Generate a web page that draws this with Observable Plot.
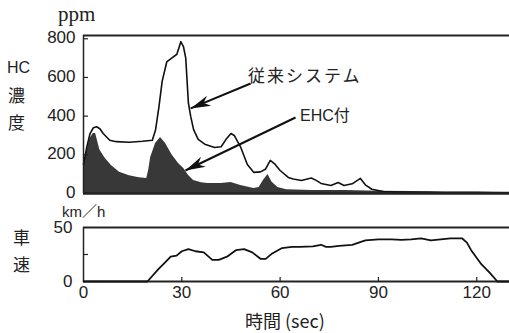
<!DOCTYPE html>
<html><head><meta charset="utf-8">
<script src="https://cdn.jsdelivr.net/npm/d3@7"></script>
<script src="https://cdn.jsdelivr.net/npm/@observablehq/plot@0.6"></script>
<style>
body{margin:0;background:#fff;}
#wrap{position:relative;width:509px;height:333px;overflow:hidden;font-family:"Liberation Sans",Arial,sans-serif;color:#222;background:#fff;}
.lbl{position:absolute;white-space:nowrap;line-height:1;}
.jp{font-family:"Noto Sans CJK JP","Liberation Sans",sans-serif;}
#hcPanel,#spdPanel{position:absolute;left:0;}
</style></head>
<body><div id="wrap">
<div id="spdPanel" style="top:200px"></div>
<div id="hcPanel" style="top:0"></div>
<div class="lbl" style="left:58px;top:4px;font-family:'Liberation Serif',serif;font-size:21px;">ppm</div>
<div class="lbl" style="left:7px;top:60px;font-size:16px;">HC</div>
<div class="lbl jp" style="left:8px;top:86px;font-size:17px;">濃</div>
<div class="lbl jp" style="left:8px;top:113px;font-size:17px;">度</div>
<div class="lbl" style="left:62px;top:204px;font-size:15px;font-family:'Liberation Sans','Noto Sans CJK JP',sans-serif;">km／h</div>
<div class="lbl jp" style="left:13px;top:228px;font-size:17px;">車</div>
<div class="lbl jp" style="left:13px;top:255px;font-size:17px;">速</div>
<div class="lbl jp" style="left:245px;top:311px;font-size:18px;">時間 (sec)</div>
<div class="lbl jp" style="left:248px;top:66px;font-size:17px;letter-spacing:2px;">従来システム</div>
<div class="lbl" style="left:300px;top:108px;font-size:16px;font-family:'Liberation Sans','Noto Sans CJK JP',sans-serif;">EHC付</div>
</div>
<script>
// ---- data ----
const convT = [0, 1, 2, 3, 4, 5, 6, 8, 10, 14, 18, 21, 22, 23, 24, 25.4, 26.5, 28.5, 29.7, 30.5, 31.2, 32, 32.7, 33.6, 35, 37, 40, 42, 43.5, 45, 46, 48, 50, 52, 54, 55.5, 57, 58.5, 60, 62.5, 64, 66.5, 69.5, 71, 72.5, 75.5, 77.7, 79.5, 82, 84.5, 86, 88, 91.5, 95, 100, 105, 110, 115, 120, 125, 130];
const convV = [150, 240, 310, 340, 345, 335, 310, 275, 268, 265, 270, 275, 330, 445, 580, 680, 695, 720, 785, 760, 700, 470, 400, 330, 280, 255, 238, 242, 280, 310, 300, 238, 150, 109, 112, 125, 171, 150, 119, 83, 75, 67, 80, 68, 52, 41, 57, 41, 50, 78, 45, 22, 10, 8, 6, 6, 5, 5, 5, 4, 4];
const ehcT = [0, 1, 2, 3, 3.7, 5, 6.5, 8.5, 11, 14, 17, 19.3, 19.9, 20.5, 22, 23.5, 25, 27, 29, 30.6, 32, 33.6, 36, 38, 42, 45, 48, 52, 53.6, 55, 56.3, 57.5, 59.3, 62, 70, 80, 90, 100, 110, 120, 130];
const ehcV = [140, 220, 285, 310, 310, 225, 185, 145, 110, 92, 82, 78, 120, 186, 258, 290, 260, 200, 155, 129, 95, 67, 55, 52, 52, 57, 41, 26, 31, 70, 98, 60, 31, 20, 15, 15, 12, 10, 8, 8, 6];
const spdT = [0, 19.5, 23, 25, 26.6, 28.4, 30, 32, 34.2, 36.7, 39.3, 41.3, 43.8, 46.5, 49, 51.5, 54, 55.6, 57.6, 60.6, 63.6, 66, 70, 72.5, 74, 75.5, 78, 82, 84, 86, 90, 94, 97, 100, 103, 106, 109, 112, 115.5, 117, 118.3, 121.4, 124, 126.3, 130];
const spdV = [0, 0, 12, 18, 23, 24, 28, 30, 28, 27, 20, 20, 23, 29, 30, 27, 21, 21, 26, 31, 32, 32, 32.5, 34, 32, 32, 33, 34, 36, 38, 39, 39, 38.5, 39, 40, 38, 39, 40, 40, 36, 29, 16, 8, 0, 0];
const timeTicks = [0, 30, 60, 90, 120];
const hcTicks = [0, 200, 400, 600, 800];
const spdTicks = [0, 25, 50];
const spdLabels = [0, 50];
const labelNames = ["従来システム", "EHC付"];
const arrowTailT = [51, 64.7];
const arrowTailV = [569, 393];
const arrowHeadT = [32.7, 31.1];
const arrowHeadV = [440, 119];

const xMax = 130, hcMax = 817, spdMax = 50;
const W = 509, ML = 83;

const conv = convT.map((t, i) => ({t, v: convV[i]}));
const ehc = ehcT.map((t, i) => ({t, v: ehcV[i]}));
const spd = spdT.map((t, i) => ({t, v: spdV[i]}));

const topH = 208, topMT = 35, topMB = 15;
const kx = (W - ML) / xMax, ky = (topH - topMT - topMB) / hcMax;
const arrows = arrowTailT.map((t, i) => {
  const dx = (arrowHeadT[i] - t) * kx, dy = -(arrowHeadV[i] - arrowTailV[i]) * ky;
  return {name: labelNames[i], t1: t, v1: arrowTailV[i], t2: arrowHeadT[i], v2: arrowHeadV[i], a: Math.atan2(dy, dx) * 180 / Math.PI};
});
const dart = {draw(ctx, size) {
  const s = Math.sqrt(size / Math.PI);
  ctx.moveTo(0, 0); ctx.lineTo(-20 * s, -5.5 * s); ctx.lineTo(-14 * s, 0); ctx.lineTo(-20 * s, 5.5 * s); ctx.closePath();
}};

const plotW = W - ML;
const font = "Liberation Sans, Arial, sans-serif";

const hcPlot = Plot.plot({
  width: W, height: topH, marginTop: topMT, marginBottom: topMB, marginLeft: ML, marginRight: 0,
  style: {background: "transparent", fontFamily: font, color: "#222"},
  x: {domain: [0, xMax], axis: null},
  y: {domain: [0, hcMax]},
  marks: [
    Plot.areaY(ehc, {x: "t", y: "v", fill: "#383838"}),
    Plot.lineY(conv, {x: "t", y: "v", stroke: "#111", strokeWidth: 1.6}),
    Plot.ruleY([0], {stroke: "#222", strokeWidth: 2.5}),
    Plot.ruleY([hcMax], {stroke: "#222", strokeWidth: 2}),
    Plot.ruleX([0], {stroke: "#222", strokeWidth: 1.5}),
    Plot.tickY(hcTicks.slice(1), {y: d => d, insetRight: plotW - 5, stroke: "#222", strokeWidth: 1.2}),
    Plot.axisY(hcTicks, {tickSize: 0, tickPadding: 8, fontSize: 17, dy: -1, label: null}),
    Plot.link(arrows, {x1: "t1", y1: "v1", x2: "t2", y2: "v2", stroke: "#111", strokeWidth: 2}),
    Plot.dot(arrows, {x: "t2", y: "v2", symbol: dart, r: 1, rotate: "a", fill: "#111", stroke: "none"})
  ]
});
document.getElementById("hcPanel").append(hcPlot);

const botH = 133, botMT = 27, botMB = 52;
const spdPlot = Plot.plot({
  width: W, height: botH, marginTop: botMT, marginBottom: botMB, marginLeft: ML, marginRight: 0,
  style: {background: "transparent", fontFamily: font, color: "#222"},
  x: {domain: [0, xMax]},
  y: {domain: [0, spdMax]},
  marks: [
    Plot.ruleY([0], {stroke: "#222", strokeWidth: 1.8}),
    Plot.ruleY([spdMax], {stroke: "#222", strokeWidth: 2}),
    Plot.ruleX([0], {stroke: "#222", strokeWidth: 1.5}),
    Plot.lineY(spd, {x: "t", y: "v", stroke: "#111", strokeWidth: 1.8}),
    Plot.tickY(spdTicks.slice(1, 2), {y: d => d, insetRight: plotW - 5, stroke: "#222", strokeWidth: 1.2}),
    Plot.tickX(timeTicks.slice(1), {x: d => d, insetTop: botH - botMT - botMB - 4, stroke: "#222", strokeWidth: 1.2}),
    Plot.axisX(timeTicks, {tickSize: 0, tickPadding: 4, fontSize: 17, label: null}),
    Plot.axisY(spdLabels, {tickSize: 0, tickPadding: 11, fontSize: 17, label: null})
  ]
});
document.getElementById("spdPanel").append(spdPlot);
</script>
</body></html>
